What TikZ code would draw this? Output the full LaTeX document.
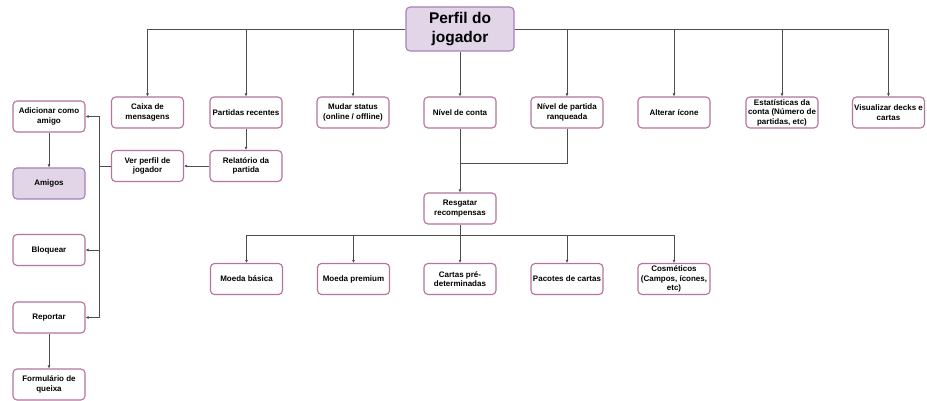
\documentclass[tikz,border=0pt]{standalone}
\usepackage{fontspec}
\setmainfont{Liberation Sans}
\usetikzlibrary{arrows.meta}
\definecolor{boxline}{HTML}{B5739D}
\definecolor{lilacfill}{HTML}{E1D5E7}
\definecolor{lilacline}{HTML}{A680B8}
\definecolor{wire}{HTML}{4D4D4D}
\tikzset{
  x=1pt, y=1pt,
  box/.style={draw=boxline, fill=white, line width=1.1pt, rounded corners=4pt,
    minimum width=72pt, minimum height=31pt, inner sep=1pt, align=center,
    font=\fontsize{8}{9.4}\selectfont\bfseries},
  hibox/.style={box, draw=lilacline, fill=lilacfill},
  rootbox/.style={hibox, minimum width=108pt, minimum height=44pt,
    font=\fontsize{15.5}{19.2}\selectfont\bfseries},
  arr/.style={draw=wire, line width=0.7pt, -{Latex[length=3pt,width=3pt]}},
  wire/.style={draw=wire, line width=0.7pt}
}
\begin{document}
\begin{tikzpicture}
\useasboundingbox (0,0) rectangle (927,-401);

% root
\node[rootbox] (perfil) at (460,-29) {Perfil do\\jogador};

% first level
\node[box] (caixa)   at (147.5,-112.5) {Caixa de\\mensagens};
\node[box] (recent)  at (246,-112.5)   {Partidas recentes};
\node[box] (status)  at (353,-112.5)   {Mudar status\\(online / offline)};
\node[box] (conta)   at (460,-112.5)   {Nível de conta};
\node[box] (ranq)    at (567,-112.5)   {Nível de partida\\ranqueada};
\node[box] (icone)   at (674,-112.5)   {Alterar ícone};
\node[box] (estat)   at (782,-112.5)   {Estatísticas da\\conta (Número de\\partidas, etc)};
\node[box] (decks)   at (888.5,-112.5) {Visualizar decks e\\cartas};

% match history branch
\node[box] (relat)   at (246,-166)   {Relatório da\\partida};
\node[box] (ver)     at (147.5,-166) {Ver perfil de\\jogador};

% social column
\node[box]   (adic)  at (49,-116.5) {Adicionar como\\amigo};
\node[hibox] (amigos) at (49,-183.5) {Amigos};
\node[box]   (bloq)  at (49,-250)   {Bloquear};
\node[box]   (report) at (49,-317.5) {Reportar};
\node[box]   (form)  at (49,-384.5) {Formulário de\\queixa};

% rewards
\node[box] (resg)    at (460,-208.5) {Resgatar\\recompensas};
\node[box] (basica)  at (246.5,-279) {Moeda básica};
\node[box] (premium) at (353.5,-279) {Moeda premium};
\node[box] (cartas)  at (460,-279)   {Cartas pré-\\determinadas};
\node[box] (pacotes) at (567,-279)   {Pacotes de cartas};
\node[box] (cosm)    at (674,-279)   {Cosméticos\\(Campos, ícones,\\etc)};

% junction points
\coordinate (join) at (460,-163);
\coordinate (bus)  at (460,-235);
\coordinate (vbus) at (99,-166);

% root to first level
\draw[arr] (perfil.west) -| (caixa.north);
\draw[arr] (perfil.west) -| (recent.north);
\draw[arr] (perfil.west) -| (status.north);
\draw[arr] (perfil.south) -- (conta.north);
\draw[arr] (perfil.east) -| (ranq.north);
\draw[arr] (perfil.east) -| (icone.north);
\draw[arr] (perfil.east) -| (estat.north);
\draw[arr] (perfil.east) -| (decks.north);

% match history
\draw[arr] (recent.south) -- (relat.north);
\draw[arr] (relat.west) -- (ver.east);
\draw[wire] (ver.west) -- (vbus);
\draw[arr] (vbus) |- (adic.east);
\draw[arr] (vbus) |- (bloq.east);
\draw[arr] (vbus) |- (report.east);
\draw[arr] (adic.south) -- (amigos.north);
\draw[arr] (report.south) -- (form.north);

% levels to rewards
\draw[wire] (ranq.south) |- (join);
\draw[arr] (conta.south) -- (resg.north);
\draw[arr] (resg.south) -- (bus) -| (basica.north);
\draw[arr] (bus) -| (premium.north);
\draw[arr] (bus) -- (cartas.north);
\draw[arr] (bus) -| (pacotes.north);
\draw[arr] (bus) -| (cosm.north);
\end{tikzpicture}
\end{document}
